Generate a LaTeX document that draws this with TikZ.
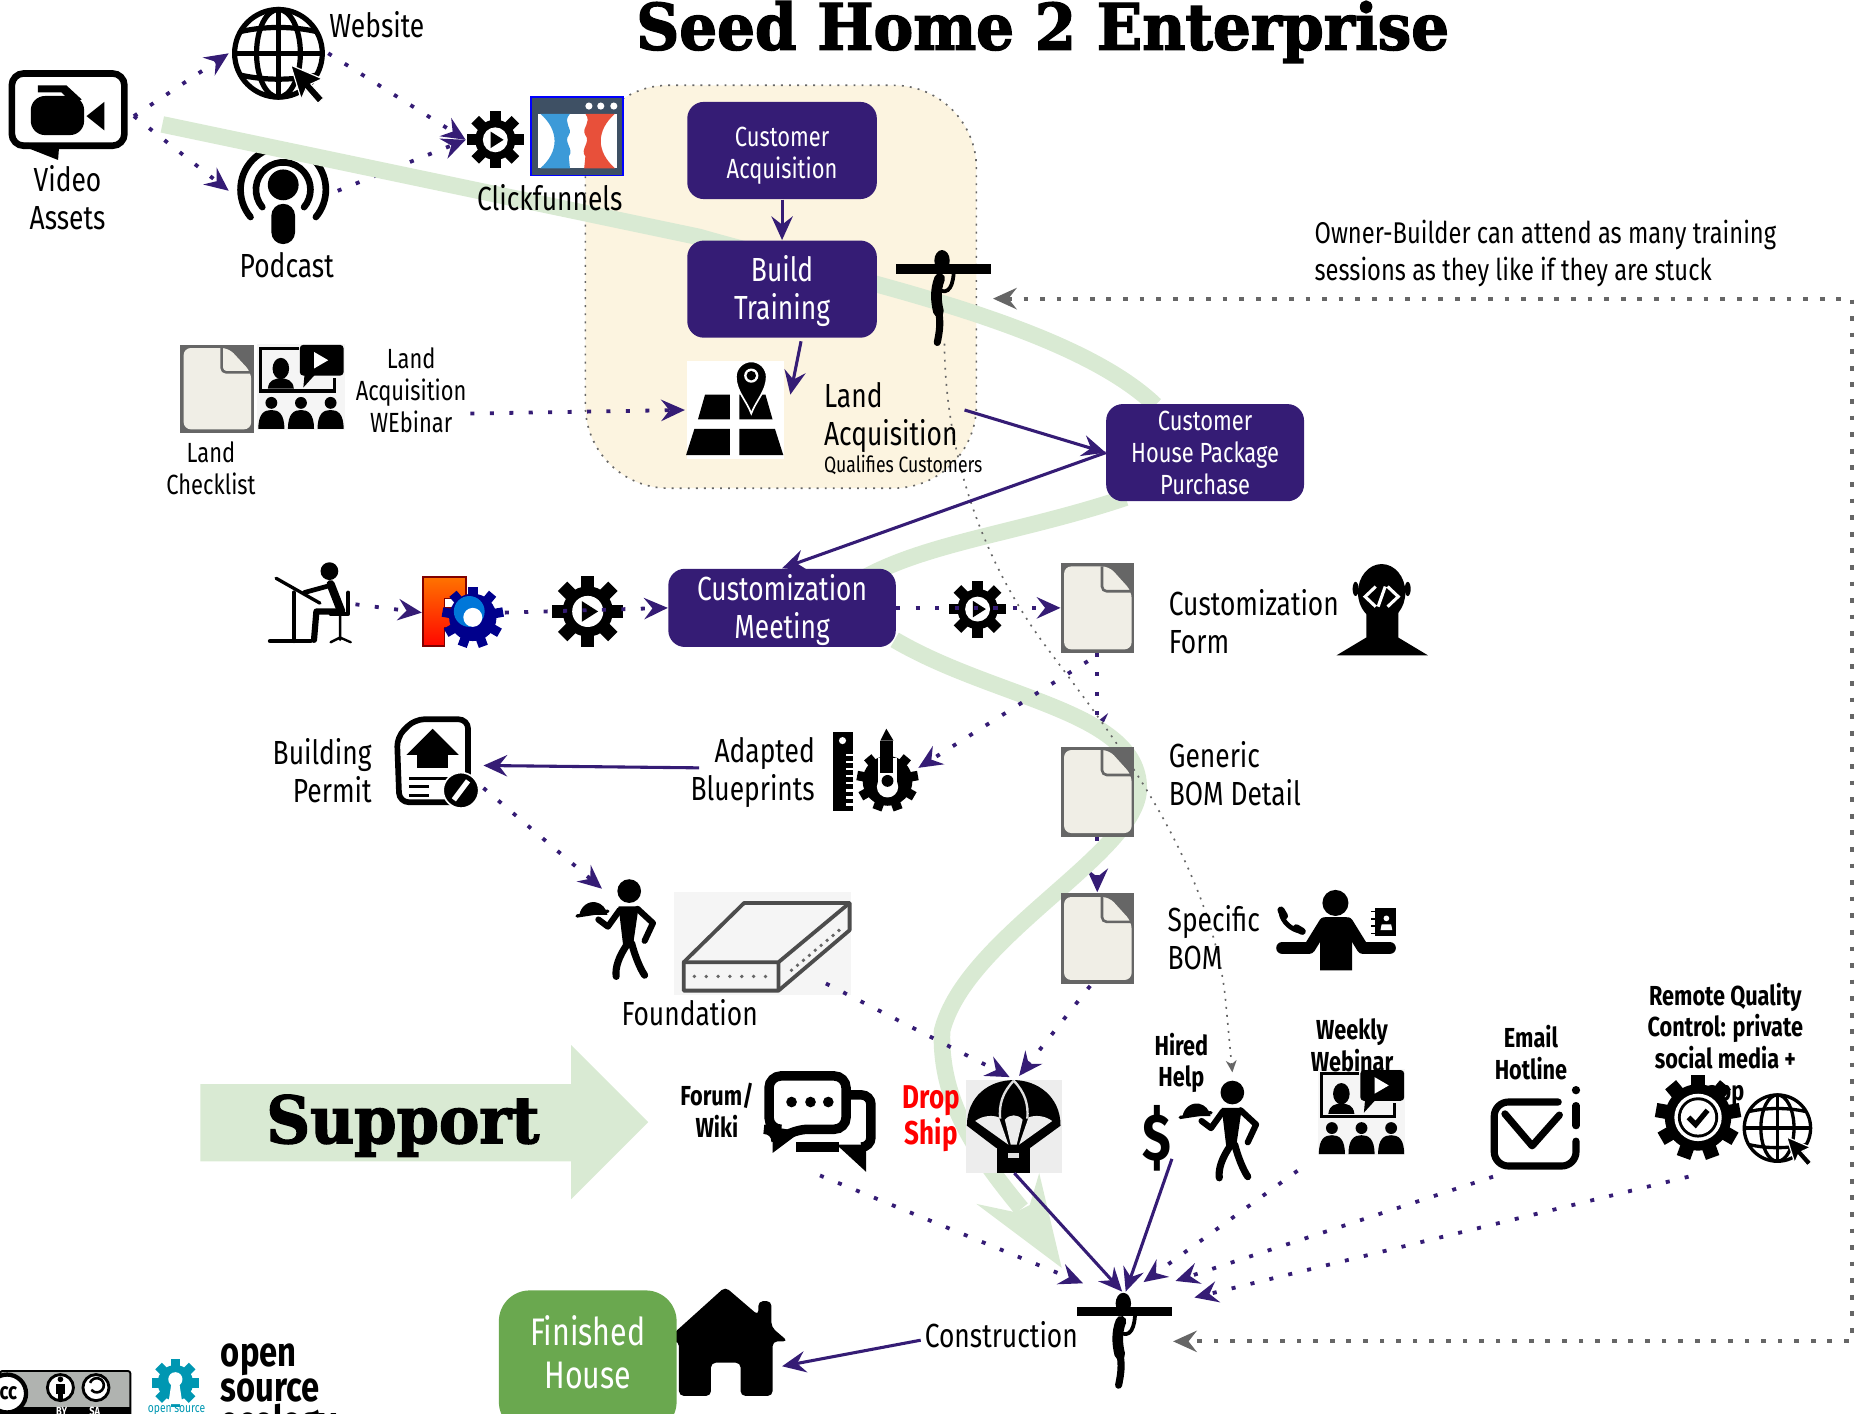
\documentclass[tikz,border=0pt]{standalone}
\usepackage{fontspec}
\setmainfont[FakeStretch=0.79]{Fira Sans}
\newfontfamily\slabfont[FakeStretch=0.93,FakeBold=2.2]{DejaVu Serif}
\usetikzlibrary{arrows.meta}
\definecolor{purp}{HTML}{351C75}
\definecolor{beigec}{HTML}{FCF4E0}
\definecolor{lgreen}{HTML}{D9EAD3}
\definecolor{fgreen}{HTML}{6AA84F}
\definecolor{docgray}{HTML}{666666}
\definecolor{doccream}{HTML}{F0EEE6}
\definecolor{teal2}{HTML}{0097B2}
\definecolor{cfblue}{HTML}{3C9AD8}
\definecolor{cfred}{HTML}{E8503A}
\definecolor{cfslate}{HTML}{3E5064}
\newcommand\sA{\fontsize{14.1}{16}\selectfont}
\newcommand\sB{\fontsize{11.7}{13.5}\selectfont}
\newcommand\sD{\fontsize{9.4}{12}\selectfont}
\newcommand\sE{\bfseries\fontsize{11.6}{13.4}\selectfont}
\newcommand\up{\rule{0pt}{12.5pt}}
\newcommand\gearshape[4]{\fill (0,0) circle[radius=#2];
  \foreach \a in {1,...,#1}{\fill[rotate={\a*360/#1}] (-#4,-#3) rectangle (#4,0);}}
\newcommand\hotspot[5]{\node[hot,minimum width=#4*0.5pt,minimum height=#5*0.5pt] (#1) at (#2,#3) {};}
\tikzset{
  hot/.style={inner sep=0pt,outer sep=0pt},
  lbl/.style={inner sep=0pt,align=center,font=\sA},
  lblleft/.style={inner sep=0pt,align=left,font=\sA,anchor=west},
  lblright/.style={inner sep=0pt,align=right,font=\sA,anchor=east},
  boldlbl/.style={inner sep=0pt,align=center,font=\sE},
  pbox/.style={fill=purp,rounded corners=7pt,text=white,align=center,inner sep=0pt,font=\sB},
  flow/.style={draw=purp,line width=1.3pt,-{Stealth[length=10pt,width=9pt,inset=3.5pt]}},
  dots/.style={draw=purp,line width=1.6pt,dash pattern=on 1.7pt off 6.5pt,-{Stealth[length=10pt,width=9pt,inset=3.5pt]}},
  graydots/.style={draw=docgray,line width=1.6pt,dash pattern=on 2pt off 5pt,{Stealth[length=10pt,width=9pt,inset=3.5pt]}-{Stealth[length=10pt,width=9pt,inset=3.5pt]}},
  finedots/.style={draw=docgray,line width=.7pt,dash pattern=on .8pt off 2.6pt,-{Stealth[length=5pt,width=4.5pt,inset=1.5pt]}},
  gline/.style={draw=lgreen,line width=7pt},
  gearplay/.pic={\gearshape{8}{17}{24}{4.5}
    \fill[white] (0,0) circle[radius=10.5];
    \fill (-4,-7) -- (7,0) -- (-4,7) -- cycle;},
  docicon/.pic={\fill[docgray] (-31,-38) rectangle (31,38);
    \fill[doccream,rounded corners=3pt] (-28,-35) -- (10,-35) -- (29,-14) -- (29,35) -- (-28,35) -- cycle;
    \draw[docgray,line width=1.1pt,rounded corners=2pt] (4,-35) -- (4,-14) -- (30,-14);},
  globeicon/.pic={\draw (0,0) circle[radius=1];
    \draw (0,0) ellipse[x radius=.5,y radius=1];
    \draw (0,-1) -- (0,1) (-1,0) -- (1,0);
    \draw (-.85,-.5) .. controls (-.3,-.62) and (.3,-.62) .. (.85,-.5);
    \draw (-.85,.5) .. controls (-.3,.62) and (.3,.62) .. (.85,.5);
    \filldraw[draw=white,line width=.5pt,fill=black] (.28,.27) -- (1,.58) -- (.74,.7) -- (1.03,1.02) -- (.9,1.14) -- (.62,.82) -- (.52,1.05) -- cycle;},
  carrier/.pic={\fill (-40,-4) rectangle (40,4);
    \fill (-1,-7) ellipse[x radius=6.5,y radius=9];
    \draw[line width=4.5pt,line cap=round] (-3,8) .. controls (-7,18) and (-6,28) .. (-4,36);
    \draw[line width=3pt,line cap=round] (-4,34) .. controls (-2,46) and (-3,52) .. (-5,62);
    \draw[line width=1.6pt,line cap=round] (-5,17) .. controls (5,23) and (9,14) .. (9,-2);},
  waiter/.pic={\fill (0,0) circle[radius=10];
    \fill (-9,13) -- (8,13) -- (3,47) -- (-5,47) -- cycle;
    \draw[line width=3pt,line cap=round] (-1,44) .. controls (-9,55) and (-12,65) .. (-11,72);
    \draw[line width=3pt,line cap=round] (2,44) .. controls (5,55) and (9,65) .. (13,71);
    \draw[line width=2.6pt,line cap=round,line join=round] (7,15) -- (20,27) -- (13,42);
    \draw[line width=2.6pt,line cap=round,line join=round] (-8,16) -- (-18,30) -- (-26,24);
    \fill (-42,20) arc[start angle=190,end angle=350,x radius=12,y radius=13] -- cycle;
    \draw[line width=1.4pt,line cap=round] (-44,21) -- (-18,17);},
  webicon/.pic={\fill[black!4] (-1,-1) rectangle (73,72);
    \draw[line width=1.4pt] (34,3) -- (2,3) -- (2,39) -- (64,39) -- (64,28);
    \fill[rounded corners=1.5pt] (35,0) rectangle (72,26);
    \fill (39,25) -- (38,36) -- (48,25) -- cycle;
    \fill[white] (47,6) -- (59,13) -- (47,20) -- cycle;
    \fill (19,20) ellipse[x radius=7,y radius=9];
    \fill (8,37) .. controls (9,29) and (14,29) .. (19,28) .. controls (24,29) and (29,29) .. (30,37) -- cycle;
    \foreach \x in {11,36,61}{
      \fill (\x,49) circle[radius=5];
      \fill (\x-11,71) .. controls (\x-11,58) and (\x-6,55) .. (\x,55) .. controls (\x+6,55) and (\x+11,58) .. (\x+11,71) -- cycle;}},
}
\begin{document}
\begin{tikzpicture}[x=0.5pt,y=-0.5pt]
\useasboundingbox (0,0) rectangle (1568,1193);
\clip (0,0) rectangle (1568,1193);
% icon areas
\hotspot{video}{57}{98}{112}{74}
\hotspot{website}{235}{45}{84}{76}
\hotspot{podcast}{239}{161}{92}{80}
\hotspot{gearcf}{418}{118}{50}{50}
\hotspot{map}{620}{345}{80}{80}
\hotspot{drafter}{263}{510}{74}{68}
\hotspot{freecad}{391}{517}{70}{60}
\hotspot{formdoc}{926}{513}{62}{76}
\hotspot{bomdoc}{926}{668}{62}{76}
\hotspot{specdoc}{926}{792}{62}{76}
\coordinate (landOut) at (814,346);
\coordinate (weblOut) at (397,349);
\coordinate (mapIn) at (578,346);
\coordinate (buildOut) at (676,288);
\coordinate (trainIn) at (667,333);
\coordinate (blueOut) at (590,648);
\coordinate (permitIn) at (408,646);
\coordinate (permitOut) at (408,665);
\coordinate (waiterIn) at (508,750);
\coordinate (foundOut) at (697,830);
\coordinate (dropInA) at (852,909);
\coordinate (dropInB) at (860,908);
\coordinate (specOut) at (920,832);
\coordinate (formOutA) at (926,551);
\coordinate (bomIn) at (926,622);
\coordinate (formOutB) at (918,558);
\coordinate (blueIn) at (775,648);
\coordinate (specIn) at (926,753);
\coordinate (forumOut) at (692,992);
\coordinate (crewA) at (914,1083);
\coordinate (dropOut) at (856,990);
\coordinate (crewB) at (947,1090);
\coordinate (dollarOut) at (989,978);
\coordinate (crewC) at (950,1090);
\coordinate (webOut) at (1095,988);
\coordinate (crewD) at (965,1082);
\coordinate (mailOut) at (1260,993);
\coordinate (crewE) at (992,1081);
\coordinate (remoteOut) at (1425,993);
\coordinate (crewF) at (1008,1095);
\coordinate (crewIn) at (990,1132);
\coordinate (constrOut) at (777,1131);
\coordinate (houseIn) at (660,1153);
\coordinate (ownerIn) at (838,252);
\coordinate (farA) at (1563,1132);
\coordinate (farB) at (1563,252);
\coordinate (fineStart) at (797,290);
\coordinate (fineEnd) at (1040,905);
% beige region
\draw[fill=beigec,draw=docgray,line width=.7pt,dash pattern=on .8pt off 2.6pt,rounded corners=35pt] (494,72) rectangle (824,412);
% podcast icon and links under the green line
\draw[dots] (podcast.east) -- (gearcf.west);
\draw[dots] (formOutA) -- (bomIn);
\draw[dots] (bomdoc.south) -- (specIn);
\begin{scope}[line cap=round]
\draw[line width=2.8pt] (239,160) ++(140:36) arc[start angle=140,end angle=400,radius=36];
\draw[line width=2.8pt] (239,160) ++(140:23) arc[start angle=140,end angle=400,radius=23];
\end{scope}
\fill (239,156) circle[radius=13];
\fill[rounded corners=5pt] (229,172) rectangle (249,206);
% green process line
\draw[gline] (137,105) -- (590,200) .. controls (700,232) and (900,270) .. (975,342);
\draw[gline] (950,420) .. controls (860,450) and (780,458) .. (725,490);
\draw[gline] (755,540) .. controls (840,590) and (961,600) .. (961,665) .. controls (961,720) and (815,790) .. (795,870) .. controls (793,930) and (825,975) .. (862,1020);
\fill[lgreen] (877,990) -- (896,1070) -- (824,1016) -- (857,1023) -- (869,1017) -- cycle;
\draw[finedots] (fineStart) .. controls (798,400) and (840,490) .. (886,550) .. controls (930,610) and (1020,720) .. (1034,841) -- (fineEnd);
% Support arrow
\fill[lgreen] (169,915) -- (482,915) -- (482,882) -- (547,947) -- (482,1012) -- (482,980) -- (169,980) -- cycle;
% video
\draw[line width=2.8pt,rounded corners=5pt,fill=white] (10,62) rectangle (105,123);
\fill (11,120) -- (49,135) -- (50,122) -- cycle;
\fill[rounded corners=6pt] (26,81) rectangle (71,114);
\fill (32,72) -- (56,72) -- (69,84) -- (60,86) -- (52,78) -- (32,78) -- cycle;
\fill (73,98) -- (88,86) -- (88,110) -- cycle;
% globes
\pic[scale=37,line width=2.2pt] at (235,45) {globeicon};
\pic[scale=28,line width=1.4pt] at (1500,952) {globeicon};
% gears
\pic at (418,118) {gearplay};
\pic[scale=1.25] at (496,516) {gearplay};
\pic at (825,514) {gearplay};
% clickfunnels
\draw[blue,fill=cfslate,line width=.7pt] (448,82) rectangle (526,148);
\fill[white] (454,96) rectangle (521,142);
\foreach \x in {497,507,518}{\fill[white] (\x,89.5) circle[radius=3];}
\fill[cfblue] (456,96) -- (481,96) .. controls (474,104) and (484,108) .. (480,114) .. controls (475,120) and (485,126) .. (480,132) -- (481,142) -- (456,142) .. controls (472,128) and (472,110) .. (456,96) -- cycle;
\fill[cfred] (519,96) -- (494,96) .. controls (500,104) and (490,108) .. (494,114) .. controls (499,120) and (489,126) .. (494,132) -- (493,142) -- (519,142) .. controls (503,128) and (503,110) .. (519,96) -- cycle;
% documents
\pic[yscale=.98] at (183,328) {docicon};
\pic at (926,513) {docicon};
\pic at (926,668) {docicon};
\pic at (926,792) {docicon};
% webinars
\pic at (218,291) {webicon};
\pic at (1113,903) {webicon};
% map
\fill[white] (580,305) rectangle (662,387);
\fill (579,384) -- (616,384) -- (616,362) -- (586,362) -- cycle;
\fill (624,362) -- (654,362) -- (661,384) -- (624,384) -- cycle;
\fill (589,354) -- (616,354) -- (616,333) -- (595,333) -- cycle;
\fill (624,354) -- (652,354) -- (646,333) -- (624,333) -- cycle;
\filldraw[draw=white,line width=.7pt,fill=black] (634,349) .. controls (630,338) and (621,330) .. (621,318) arc[start angle=180,end angle=360,radius=13] .. controls (647,330) and (638,338) .. (634,349) -- cycle;
\fill[white] (634,317) circle[radius=6];
\fill (634,317) circle[radius=4];
% people with beam
\pic at (796,227) {carrier};
\pic at (949,1107) {carrier};
% drafter
\begin{scope}[line cap=round,line join=round]
\fill (278,482) circle[radius=7.5];
\draw[line width=3.5pt] (279,493) -- (288,516);
\draw[line width=2pt] (279,494) -- (257,500);
\draw[line width=2.6pt] (288,516) -- (267,516) -- (265,540);
\draw[line width=1.4pt] (233,488) -- (270,509);
\draw[line width=1.8pt] (248,500) -- (248,541);
\draw[line width=2pt] (228,541) -- (262,541);
\draw[line width=1.6pt] (294,500) -- (294,518) -- (279,518);
\draw[line width=1pt] (287,518) -- (287,540) (279,542) -- (287,538) -- (296,542);
\end{scope}
% freecad
\filldraw[draw=red!50!black,line width=.7pt,top color=orange!90!red,bottom color=red!95!orange] (357,487) -- (393,487) -- (393,505) -- (375,505) -- (375,513) -- (388,513) -- (388,530) -- (375,530) -- (375,545) -- (357,545) -- cycle;
\begin{scope}[shift={(399,521)},blue!55!black]
\gearshape{9}{20}{26}{4}
\fill[blue!45!cyan!85!black] (-3,-5) circle[radius=13];
\fill[white] (0,0) circle[radius=8];
\end{scope}
% code head
\fill (1166,500) ellipse[x radius=20,y radius=24];
\fill (1144,497) ellipse[x radius=2.5,y radius=6];
\fill (1188,497) ellipse[x radius=2.5,y radius=6];
\fill (1128,553) -- (1153,538) -- (1153,515) -- (1180,515) -- (1180,538) -- (1205,553) -- cycle;
\draw[white,line width=1.3pt] (1161,495) -- (1152,503.5) -- (1161,512) (1171,495) -- (1180,503.5) -- (1171,512) (1169,495) -- (1163,512);
% phone person
\begin{scope}[line cap=round,line join=round]
\fill (1127,762) circle[radius=11];
\fill (1118,774) -- (1136,774) -- (1141,785) -- (1141,819) -- (1114,819) -- (1114,785) -- cycle;
\draw[line width=5pt] (1118,779) -- (1105,800) -- (1082,800);
\draw[line width=5pt] (1137,779) -- (1150,800) -- (1173,800);
\draw[line width=2pt] (1081,770) .. controls (1082,778) and (1090,785) .. (1098,786);
\draw[line width=3pt] (1081,768) -- (1084,773) (1094,783) -- (1099,786);
\end{scope}
\fill (1160,766) rectangle (1178,790);
\foreach \y in {770,776,782,788}{\fill (1157,\y-1) rectangle (1161,\y);}
\fill[white] (1170,775) circle[radius=2.4];
\fill[white] (1165,785) -- (1166,780) -- (1174,780) -- (1175,785) -- cycle;
% blueprints
\fill (703,618) rectangle (720,684);
\fill[white] (711,625) circle[radius=3];
\foreach \y in {636,642,...,680}{\fill[white] (714,\y) rectangle (720,\y+2);}
\begin{scope}[shift={(749,659)}]
\gearshape{9}{21}{26}{4}
\end{scope}
\fill[white] (741,640) rectangle (757,664);
\fill (743,625) rectangle (754,652);
\fill (748,615) -- (743,625) -- (754,625) -- cycle;
\fill[white] (749,664) circle[radius=9];
\fill (749,659) circle[radius=5];
% permit
\draw[line width=2.4pt,rounded corners=4pt,fill=white] (335,622) -- (350,607) -- (395,607) -- (395,677) -- (337,677) -- cycle;
\fill (365,615) -- (387,637) -- (378,637) -- (378,648) -- (352,648) -- (352,637) -- (343,637) -- cycle;
\draw[line width=1.2pt] (345,657) -- (382,657) (345,664) -- (362,664) (345,671) -- (362,671);
\filldraw[draw=white,line width=.7pt,fill=black] (389,667) circle[radius=15];
\draw[white,line width=2.2pt] (383,675) -- (395,659);
% waiters
\pic at (531,752) {waiter};
\pic at (1040,922) {waiter};
% foundation
\fill[black!4] (569,753) rectangle (718,840);
\begin{scope}[draw=black!70,line width=1.6pt,line join=round]
\draw (577,812) -- (628,762) -- (717,762) -- (717,785) -- (657,836) -- (577,836) -- cycle;
\draw (577,812) -- (657,812) -- (717,762) (657,812) -- (657,836);
\end{scope}
\foreach \x in {586,596,...,646}{\fill[black!60] (\x,824) circle[radius=1.6];}
\foreach \t in {0.1,0.2,...,0.95}{\fill[black!60] ({663+\t*50},{823-\t*42}) circle[radius=1.6];}
% forum
\draw[line width=4pt,rounded corners=5pt] (649,908) -- (714,908) -- (714,953) -- (672,953) -- (655,963) -- (655,953) -- (649,953) -- cycle;
\fill (652,951) -- (652,973) -- (676,955) -- cycle;
\foreach \x in {668,684,699}{\fill (\x,930) circle[radius=4.5];}
\draw[line width=4pt,rounded corners=4pt] (718,924) -- (735,924) -- (735,968) -- (727,968);
\draw[line width=4pt,rounded corners=2pt] (672,968) -- (708,968);
\fill (706,966) -- (731,989) -- (731,966) -- cycle;
% parachute
\fill[black!7] (815,911) rectangle (896,990);
\fill (816,950) .. controls (816,925) and (835,911.5) .. (855.5,911.5) .. controls (875,911.5) and (895,925) .. (895,950) -- (869,969) -- (841,969) -- cycle;
\fill[black!7] (823,946) .. controls (830,941) and (838,941) .. (843,943) -- (851,966) -- cycle;
\fill[black!7] (888,946) .. controls (881,941) and (873,941) .. (868,943) -- (860,966) -- cycle;
\fill[black!7] (848,945) .. controls (852,940) and (859,940) .. (863,945) -- (858,966) -- (853,966) -- cycle;
\draw[black!12,line width=1pt] (855.5,912) .. controls (846,922) and (843,932) .. (844,944) (855.5,912) .. controls (865,922) and (868,932) .. (867,944);
\fill (841,968) rectangle (869,990);
\fill[black!12] (851,973) rectangle (860,977);
% mail
\begin{scope}[line cap=round,line join=round]
\draw[line width=3pt,rounded corners=6pt] (1315,930) -- (1261,930) -- (1261,984) -- (1330,984) -- (1330,963);
\draw[line width=3pt] (1270,940) -- (1293,967) -- (1316,941);
\draw[line width=3pt] (1330,933) -- (1330,950);
\fill (1330,920) circle[radius=3.5];
\end{scope}
% house
\fill[rounded corners=2pt] (561,1132) -- (612,1086) -- (640,1110) -- (640,1098) -- (651,1098) -- (651,1120) -- (665,1132) -- (652,1132) -- (652,1178) -- (625,1178) -- (625,1150) -- (600,1150) -- (600,1178) -- (573,1178) -- (573,1132) -- cycle;
% boxes
\node[pbox,minimum width=80pt,minimum height=41pt] (custacq) at (660,127) {\up Customer\\Acquisition};
\node[pbox,minimum width=80pt,minimum height=41pt,font=\sA] (build) at (660,244) {\up Build\\Training};
\node[pbox,minimum width=83.5pt,minimum height=41pt] (house3) at (1017,382) {Customer\\House Package\\Purchase};
\node[pbox,minimum width=96pt,minimum height=33pt,font=\sA] (meeting) at (660,513) {\up Customization\\Meeting};
\node[fill=fgreen,text=white,rounded corners=13pt,inner sep=0pt,align=center,minimum width=75pt,minimum height=60pt,font=\fontsize{16.2}{18.5}\selectfont] (finished) at (496,1149) {Finished\\House\rule[-8pt]{0pt}{0pt}};
% solid connectors
\draw[flow] (custacq) -- (build);
\draw[flow] (buildOut) -- (trainIn);
\draw[flow] (landOut) -- (house3.west);
\draw[flow] (house3.west) -- (meeting.north);
\draw[flow] (blueOut) -- (permitIn);
\draw[flow] (dropOut) -- (crewB);
\draw[flow] (dollarOut) -- (crewC);
\draw[flow] (constrOut) -- (houseIn);
% dotted connectors
\draw[dots] (video.east) -- (website.west);
\draw[dots] (video.east) -- (podcast.west);
\draw[dots] (website.east) -- (gearcf.west);
\draw[dots] (weblOut) -- (mapIn);
\draw[dots] (drafter.east) -- (freecad.west);
\draw[dots] (freecad.east) -- (meeting.west);
\draw[dots] (meeting.east) -- (formdoc.west);
\draw[dots] (formOutB) -- (blueIn);
\draw[dots] (permitOut) -- (waiterIn);
\draw[dots] (foundOut) -- (dropInA);
\draw[dots] (specOut) -- (dropInB);
\draw[dots] (forumOut) -- (crewA);
\draw[dots] (webOut) -- (crewD);
\draw[dots] (mailOut) -- (crewE);
\draw[dots] (remoteOut) -- (crewF);
\draw[graydots] (ownerIn) -- (farB) -- (farA) -- (crewIn);
% labels
\node[font=\slabfont\bfseries\fontsize{27}{30}\selectfont,inner sep=0pt] (title) at (880,27) {Seed Home 2 Enterprise};
\node[font=\slabfont\bfseries\fontsize{27.5}{30}\selectfont,inner sep=0pt] (support) at (340,950) {Support};
\node[lbl] (lwebsite) at (318,21) {Website};
\node[lbl] (lvideo) at (57,167) {Video\\Assets};
\node[lbl] (lpodcast) at (242,224) {Podcast};
\node[lbl] (lclick) at (464,167) {Clickfunnels};
\node[lbl,font=\sB] (llandweb) at (347,329) {Land\\Acquisition\\WEbinar};
\node[lbl,font=\sB] (lcheck) at (178,395) {Land\\Checklist};
\node[lblleft] (lland) at (695,352) {Land\\Acquisition};
\node[lblleft,font=\sD] (lqual) at (695,392) {Qualifies Customers};
\node[lblleft,font=\fontsize{12.66}{15.5}\selectfont] (lowner) at (1109,214) {Owner-Builder can attend as many training\\sessions as they like if they are stuck};
\node[lblleft] (lform) at (986,525) {Customization\\Form};
\node[lblleft] (lgen) at (986,653) {Generic\\BOM Detail};
\node[lblleft] (lspec) at (985,791) {Specific\\BOM};
\node[lblright] (lblue) at (688,652) {Adapted\\Blueprints};
\node[lblright] (lperm) at (314,650) {Building\\Permit};
\node[lbl] (lfound) at (582,855) {Foundation};
\node[boldlbl] (lforum) at (605,937) {Forum/\\Wiki};
\node[boldlbl,text=red,font=\bfseries\fontsize{13.9}{15}\selectfont] (ldrop) at (786,944) {Drop\\Ship};
\node[boldlbl] (lhired) at (997,897) {Hired\\Help};
\node[boldlbl] (lweekly) at (1141,882) {Weekly\\Webinar};
\node[boldlbl] (lmail) at (1292,888) {Email\\Hotline};
\node[boldlbl,anchor=north] (lremote) at (1456,829) {Remote Quality\\Control: private\\social media +\\app};
% check gear (hides part of the last label line)
\begin{scope}[shift={(1433,943)}]
\gearshape{9}{28}{36}{6}
\fill[white] (0,0) circle[radius=20];
\fill (0,0) circle[radius=17];
\fill[white] (0,0) circle[radius=14.5];
\draw[line width=2.2pt] (-8,0) -- (-2,6) -- (8,-6);
\end{scope}
\node[lbl] (lconstr) at (845,1126) {Construction};
\node[inner sep=0pt,font=\bfseries\fontsize{28}{30}\selectfont] (ldollar) at (976,961) {\$};
% footer badges
\draw[fill=black!30!green!3!gray!60,line width=.8pt,rounded corners=1pt] (0,1157) rectangle (110,1200);
\fill (0,1187) rectangle (110,1200);
\node[text=white,font=\bfseries\fontsize{5}{6}\selectfont,inner sep=0pt] (lby) at (52,1191) {BY};
\node[text=white,font=\bfseries\fontsize{5}{6}\selectfont,inner sep=0pt] (lsa) at (80,1191) {SA};
\draw[fill=white,line width=1.8pt] (6,1176) circle[radius=16];
\node[font=\bfseries\fontsize{10}{12}\selectfont,inner sep=0pt] (lcc) at (7,1176) {cc};
\draw[fill=white,line width=1.2pt] (51,1171) circle[radius=11];
\fill (51,1164) circle[radius=2.4];
\fill (47.5,1168) rectangle (54.5,1176);
\fill (49,1176) rectangle (53,1181);
\draw[fill=white,line width=1.2pt] (81,1171) circle[radius=11];
\draw[line width=1.1pt] (76,1167) arc[start angle=200,end angle=500,radius=6];
\begin{scope}[shift={(148,1167)},teal2]
\gearshape{8}{15}{20}{4}
\fill[white] (0,-3) circle[radius=6];
\fill[white] (-3,-2) -- (3,-2) -- (6,18) -- (-6,18) -- cycle;
\end{scope}
\node[text=teal2,font=\fontsize{5.5}{6}\selectfont,inner sep=0pt] (losgear) at (149,1190) {open source};
\node[font=\bfseries\fontsize{17.5}{11.2}\selectfont,inner sep=0pt,align=left,anchor=north west] (lose) at (186,1134) {open\\source\\ecology};
\end{tikzpicture}
\end{document}
